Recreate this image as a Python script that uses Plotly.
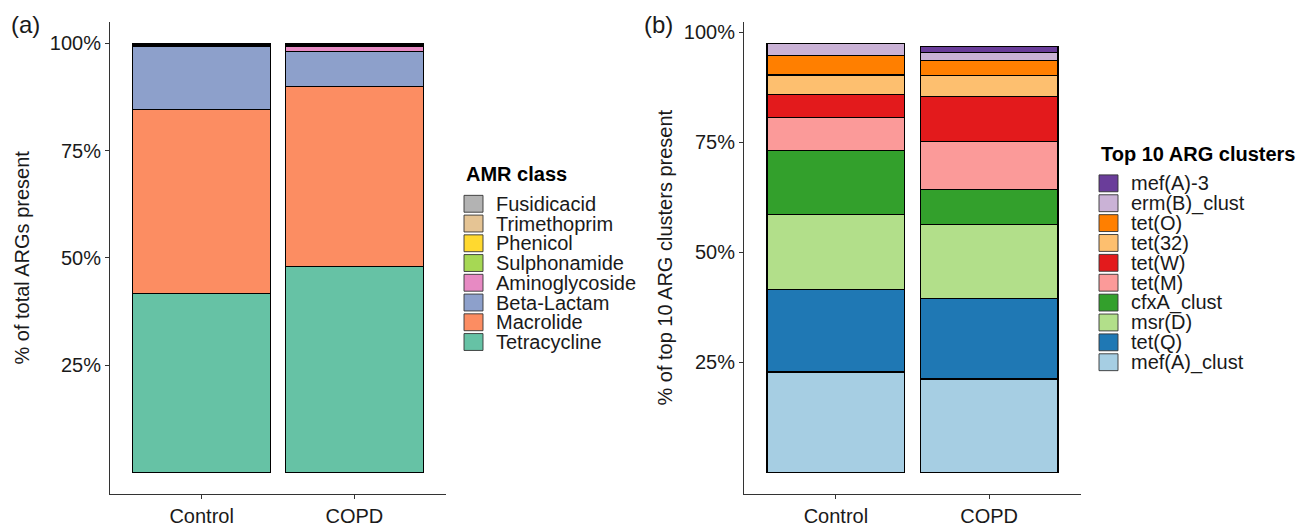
import plotly.graph_objects as go

# The page body keeps the browser's 8px margin, so the figure is drawn at (8, 8)
OFF = 8
W, H = 1308 - OFF, 527 - OFF
FONT = "Liberation Sans, Arial, sans-serif"
TXT = "#1a1a1a"

groups = ["Control", "COPD"]

# Panel (a): AMR class composition (% of total ARGs), legend order (top -> bottom)
amr_classes = ["Fusidicacid", "Trimethoprim", "Phenicol", "Sulphonamide",
               "Aminoglycoside", "Beta-Lactam", "Macrolide", "Tetracycline"]
amr_colors = ["#B3B3B3", "#E5C494", "#FFD92F", "#A6D854",
              "#E78AC3", "#8DA0CB", "#FC8D62", "#66C2A5"]
amr_control = [0.1, 0.15, 0.1, 0.15, 0.3, 14.55, 43.05, 41.6]
amr_copd = [0.1, 0.25, 0.15, 0.3, 1.0, 8.2, 42.1, 47.9]

# Panel (b): top 10 ARG clusters (% of ARGs), legend order (top -> bottom)
arg_clusters = ["mef(A)-3", "erm(B)_clust", "tet(O)", "tet(32)", "tet(W)",
                "tet(M)", "cfxA_clust", "msr(D)", "tet(Q)", "mef(A)_clust"]
arg_colors = ["#6A3D9A", "#CAB2D6", "#FF7F00", "#FDBF6F", "#E31A1C",
              "#FB9A99", "#33A02C", "#B2DF8A", "#1F78B4", "#A6CEE3"]
arg_control = [0.1, 2.6, 4.5, 4.4, 5.3, 7.5, 14.6, 17.0, 18.7, 22.8]
arg_copd = [1.2, 1.8, 3.6, 4.7, 10.2, 10.9, 7.9, 16.9, 18.3, 21.2]

yticks = [25, 50, 75, 100]
ytick_text = ["25%", "50%", "75%", "100%"]


def px(x):
    return (x - OFF) / W


def py(y):
    return 1 - (y - OFF) / H


fig = go.Figure()

# stack from bottom (last legend item) to top
for name, col, c, d in reversed(list(zip(amr_classes, amr_colors, amr_control, amr_copd))):
    fig.add_trace(go.Bar(x=groups, y=[c, d], name=name,
                         marker=dict(color=col, line=dict(color="black", width=1.1)),
                         width=0.9, xaxis="x", yaxis="y", showlegend=False))
for name, col, c, d in reversed(list(zip(arg_clusters, arg_colors, arg_control, arg_copd))):
    fig.add_trace(go.Bar(x=groups, y=[c, d], name=name,
                         marker=dict(color=col, line=dict(color="black", width=1.1)),
                         width=0.9, xaxis="x2", yaxis="y2", showlegend=False))

tot_a = max(sum(amr_control), sum(amr_copd))
tot_b = max(sum(arg_control), sum(arg_copd))

axis_common = dict(showline=True, linecolor="#333333", linewidth=1.1, ticks="outside", ticklen=4,
                   tickcolor="#333333", showgrid=False, zeroline=False,
                   tickfont=dict(family=FONT, size=20, color=TXT))

ydom = [py(497.5), py(22)]
fig.update_layout(
    width=W, height=H, barmode="stack",
    margin=dict(l=0, r=0, t=0, b=0),
    paper_bgcolor="white", plot_bgcolor="white",
    font=dict(family=FONT, size=20, color=TXT),
    xaxis=dict(domain=[px(110), px(446)], range=[-0.6, 1.6], anchor="y", **axis_common),
    yaxis=dict(domain=ydom, range=[-0.05 * tot_a, 1.05 * tot_a], anchor="x",
               tickvals=yticks, ticktext=ytick_text, **axis_common),
    xaxis2=dict(domain=[px(744), px(1081)], range=[-0.6, 1.6], anchor="y2", **axis_common),
    yaxis2=dict(domain=ydom, range=[-0.05 * tot_b, 1.05 * tot_b], anchor="x2",
                tickvals=yticks, ticktext=ytick_text, **axis_common),
)

annotations = [
    dict(text="(a)", x=px(9), y=py(25), xref="paper", yref="paper", xanchor="left", yanchor="middle",
         showarrow=False, font=dict(family=FONT, size=24, color=TXT)),
    dict(text="(b)", x=px(642), y=py(25), xref="paper", yref="paper", xanchor="left", yanchor="middle",
         showarrow=False, font=dict(family=FONT, size=24, color=TXT)),
    dict(text="% of total ARGs present", x=px(22), y=py(259.5), xref="paper", yref="paper",
         xanchor="center", yanchor="middle", textangle=-90, showarrow=False,
         font=dict(family=FONT, size=20, color=TXT)),
    dict(text="% of top 10 ARG clusters present", x=px(665), y=py(259.5), xref="paper", yref="paper",
         xanchor="center", yanchor="middle", textangle=-90, showarrow=False,
         font=dict(family=FONT, size=20, color=TXT)),
]
shapes = []


def add_legend(title, names, colors, x0, title_y, first_y, step=20.0):
    annotations.append(dict(text="<b>" + title + "</b>", x=px(x0), y=py(title_y), xref="paper", yref="paper",
                            xanchor="left", yanchor="middle", showarrow=False,
                            font=dict(family=FONT, size=20, color="black")))
    for i, (n, c) in enumerate(zip(names, colors)):
        yc = first_y + i * step
        shapes.append(dict(type="rect", xref="paper", yref="paper",
                           x0=px(x0), x1=px(x0 + 19), y0=py(yc + 8.5), y1=py(yc - 8.5),
                           fillcolor=c, line=dict(color="#333333", width=0.9)))
        annotations.append(dict(text=n, x=px(x0 + 30), y=py(yc), xref="paper", yref="paper",
                                xanchor="left", yanchor="middle", showarrow=False,
                                font=dict(family=FONT, size=20, color=TXT)))


add_legend("AMR class", amr_classes, amr_colors, 464, 175, 205.3, 19.9)
add_legend("Top 10 ARG clusters", arg_clusters, arg_colors, 1099, 155, 184.7, 20.03)

fig.update_layout(annotations=annotations, shapes=shapes)

fig.write_html("out.html")
